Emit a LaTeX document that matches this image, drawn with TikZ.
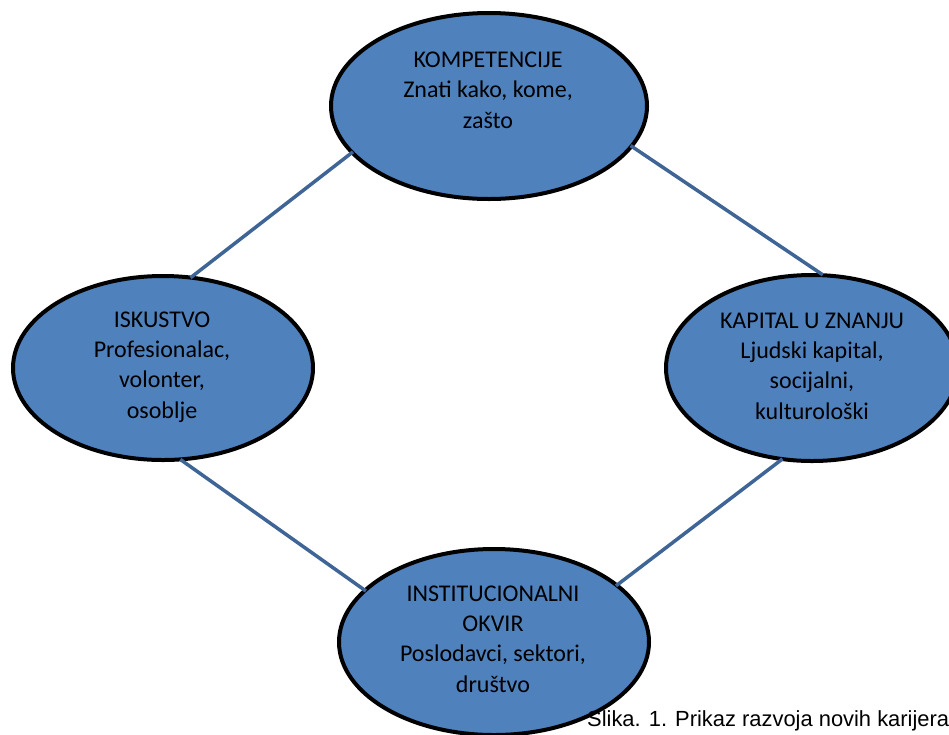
\documentclass[tikz,border=0pt]{standalone}
\usepackage{fontspec}
\setmainfont{Carlito}
\newfontfamily\capfont{Liberation Sans}
\definecolor{ellfill}{HTML}{4F81BD}
\definecolor{linkcol}{HTML}{3E6596}
\tikzset{
  oval/.style={ellipse, draw=black, line width=4pt, fill=ellfill, inner sep=0pt},
  ovaltext/.style={anchor=base, align=center, inner sep=0pt, font=\fontsize{24}{30.2}\selectfont},
  link/.style={draw=linkcol, line width=3.5pt, shorten <=-3pt, shorten >=-3pt}
}
\usetikzlibrary{shapes.geometric}
\begin{document}
\begin{tikzpicture}[x=1pt,y=-1pt]
\useasboundingbox (0,0) rectangle (949,734);
\node[oval, minimum width=316pt, minimum height=186pt] (top) at (489,106) {};
\node[oval, minimum width=300pt, minimum height=184pt] (left) at (163,368) {};
\node[oval, minimum width=292pt, minimum height=186pt] (right) at (812,368) {};
\node[oval, minimum width=310pt, minimum height=186pt] (bottom) at (494,642) {};
\node[ovaltext] (ttop) at (488,128) {KOMPETENCIJE\\Znati kako, kome,\\zašto};
\node[ovaltext] (tleft) at (162,418) {ISKUSTVO\\Profesionalac,\\volonter,\\osoblje};
\node[ovaltext] (tright) at (812,419) {KAPITAL U ZNANJU\\Ljudski kapital,\\socijalni,\\kulturološki};
\node[ovaltext] (tbottom) at (493,692) {INSTITUCIONALNI\\OKVIR\\Poslodavci, sektori,\\društvo};
\draw[link] (top.199.5) -- (left.72.3);
\draw[link] (top.344.3) -- (right.85);
\draw[link] (left.282.4) -- (bottom.158);
\draw[link] (right.251.9) -- (bottom.25.2);
\node[anchor=base west, inner sep=0pt, font=\capfont\fontsize{21.9}{26}\selectfont] (cap) at (587,726) {Slika. 1. Prikaz razvoja novih karijera};
\end{tikzpicture}
\end{document}
